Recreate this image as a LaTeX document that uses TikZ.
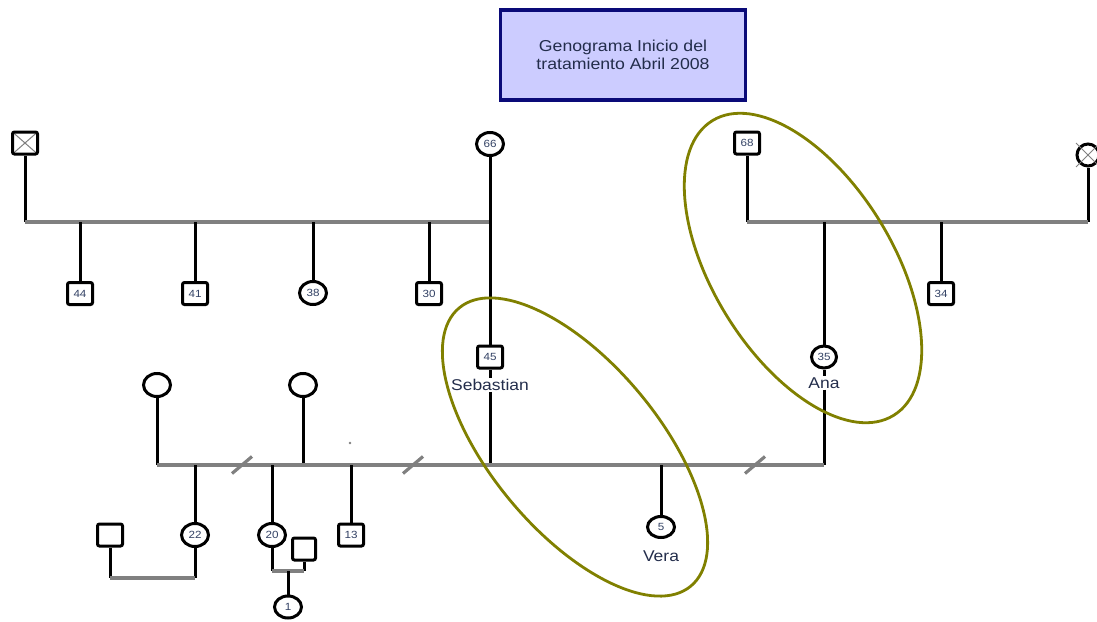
\documentclass[tikz,border=0pt]{standalone}
\usepackage{fontspec}
\setmainfont{Liberation Sans}
\newfontfamily\wide[FakeStretch=1.12]{Liberation Sans}
\usetikzlibrary{shapes.geometric}
\definecolor{numc}{RGB}{50,65,100}
\definecolor{labc}{RGB}{35,45,75}
\definecolor{relc}{RGB}{128,128,128}
\definecolor{olivec}{RGB}{128,128,0}
\definecolor{boxfill}{RGB}{204,204,255}
\definecolor{boxline}{RGB}{10,10,120}
\tikzset{
  kin/.style={line width=3pt, black},
  rel/.style={line width=3.2pt, relc},
  male/.style={draw, rectangle, line width=3pt, rounded corners=2pt, minimum width=25pt, minimum height=22pt, inner sep=0pt, fill=white, font=\wide\fontsize{10.4}{11}\selectfont, text=numc},
  female/.style={draw, ellipse, line width=3pt, minimum width=27pt, minimum height=23pt, inner sep=0pt, fill=white, font=\wide\fontsize{10.4}{11}\selectfont, text=numc},
  pname/.style={inner sep=1pt, font=\wide\fontsize{15.6}{17}\selectfont, text=labc},
  xmark/.style={path picture={\draw[relc, line width=1pt] (path picture bounding box.north west) -- (path picture bounding box.south east) (path picture bounding box.north east) -- (path picture bounding box.south west);}},
  divorce/.style={line width=3.2pt, relc},
  famring/.style={line width=2.8pt, olivec}
}
\begin{document}
\begin{tikzpicture}[x=1pt,y=-1pt]
\useasboundingbox (0,0) rectangle (1097,621);
% title
\node[draw=boxline, line width=3.2pt, fill=boxfill, minimum width=245pt, minimum height=90pt, align=center, font=\wide\fontsize{15.8}{18.5}\selectfont, text=labc] (title) at (623,55) {Genograma Inicio del\\tratamiento Abril 2008};
% generation 1
\node[male, xmark] (gf1) at (25,143) {};
\node[female] (gm1) at (490,144) {66};
\node[male] (gf2) at (747,143) {68};
\node[female, minimum width=22pt, minimum height=22pt] (gm2) at (1088,155) {};
\draw[relc, line width=1pt] (1076,143) -- (1100,167) (1076,167) -- (1100,143);
\coordinate (u1l) at (25,222);
\coordinate (u1r) at (490,222);
\coordinate (u2l) at (747,222);
\coordinate (u2r) at (1088,222);
\draw[kin] (gf1) -- (u1l);
\draw[rel] (u1l) -- (u1r);
\draw[kin] (gf2) -- (u2l);
\draw[kin] (gm2) -- (u2r);
\draw[rel] (u2l) -- (u2r);
% generation 2
\node[male] (c44) at (80,293.5) {44};
\node[male] (c41) at (195,293.5) {41};
\node[female] (c38) at (313,293) {38};
\node[male] (c30) at (429,293.5) {30};
\node[male] (c34) at (941,293.5) {34};
\draw[kin] (c44) -- (c44 |- u1l);
\draw[kin] (c41) -- (c41 |- u1l);
\draw[kin] (c38) -- (c38 |- u1l);
\draw[kin] (c30) -- (c30 |- u1l);
\draw[kin] (c34) -- (c34 |- u2l);
\node[male] (seb) at (490,357) {45};
\node[pname] (sebl) at (490,385) {Sebastian};
\node[female, minimum width=25pt, minimum height=22pt] (ana) at (824,357) {35};
\node[pname] (anal) at (824,383) {Ana};
\draw[kin] (gm1) -- (seb);
\draw[kin] (ana) -- (ana |- u2l);
\draw[kin] (seb) -- (sebl);
\draw[kin] (ana) -- (anal);
\node[female] (w1) at (157,385) {};
\node[female] (w2) at (303,385) {};
\coordinate (u3l) at (157,465);
\coordinate (u3r) at (824,465);
\draw[kin] (w1) -- (u3l);
\draw[kin] (w2) -- (w2 |- u3l);
\draw[kin] (sebl) -- (sebl |- u3l);
\draw[kin] (anal) -- (u3r);
\draw[rel] (u3l) -- (u3r);
\coordinate (d1) at (242,465);
\coordinate (d2) at (413,465);
\coordinate (d3) at (755,465);
\foreach \d in {d1,d2,d3} \draw[divorce] ([shift={(-10,8.5)}]\d) -- ([shift={(10,-8.5)}]\d);
\fill[relc] (350,443) circle (1.3);
% generation 3
\node[female] (c22) at (195,535) {22};
\node[female] (c20) at (272,535) {20};
\node[male] (c13) at (351,535) {13};
\node[female, minimum width=27pt, minimum height=21pt] (vera) at (661,527) {5};
\node[pname] (veral) at (661,556) {Vera};
\draw[kin] (c22) -- (c22 |- u3l);
\draw[kin] (c20) -- (c20 |- u3l);
\draw[kin] (c13) -- (c13 |- u3l);
\draw[kin] (vera) -- (vera |- u3l);
\node[male] (h1) at (110,535) {};
\coordinate (k1) at (110,578);
\coordinate (k2) at (195,578);
\draw[kin] (h1) -- (k1);
\draw[kin] (c22) -- (k2);
\draw[rel] (k1) -- (k2);
\node[male, minimum width=23pt] (h2) at (304,549) {};
\coordinate (k3) at (272,571);
\coordinate (k4) at (304,571);
\coordinate (k5) at (288,571);
\draw[kin] (c20) -- (k3);
\draw[kin] (h2) -- (k4);
\draw[rel] (k3) -- (k4);
\node[female, minimum height=22pt] (g1) at (288,607) {1};
\draw[kin] (k5) -- (g1);
% family rings
\draw[famring, rotate around={-50.2:(575,447)}] (575,447) ellipse [x radius=181, y radius=84];
\draw[famring, rotate around={-58.4:(803,268)}] (803,268) ellipse [x radius=173, y radius=90];
\end{tikzpicture}
\end{document}
